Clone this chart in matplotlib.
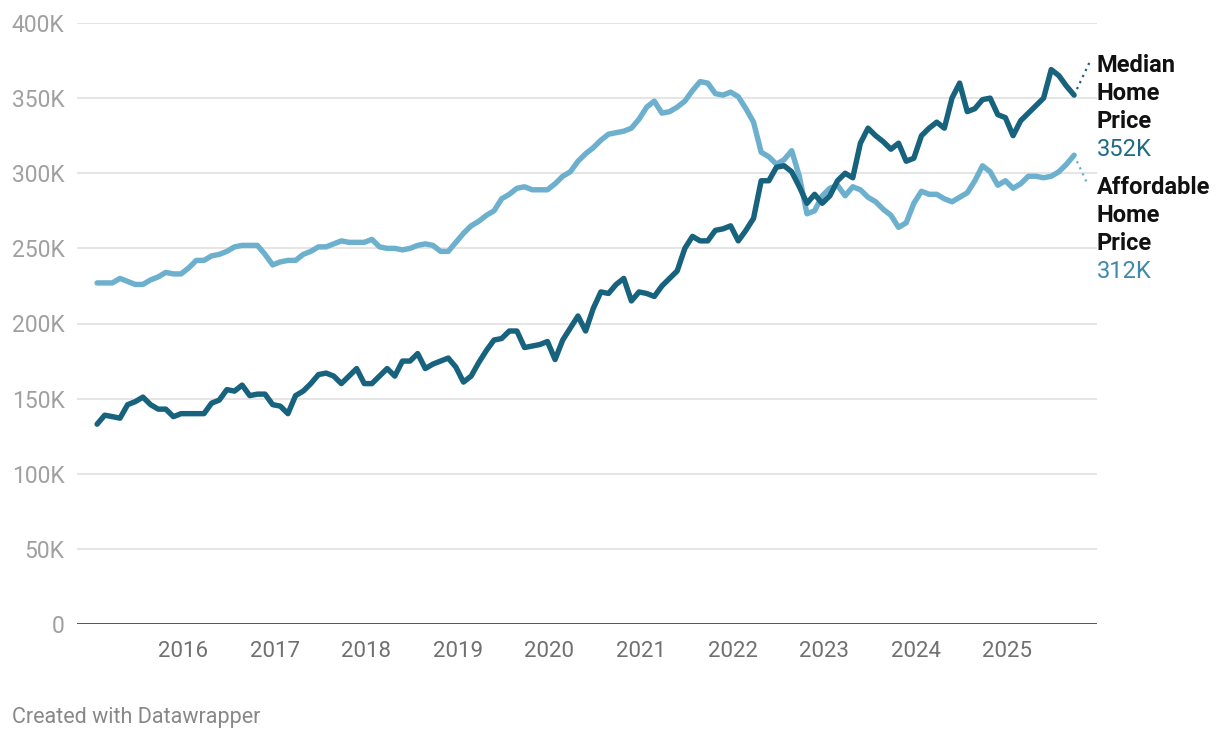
import numpy as np
import pandas as pd
import matplotlib
matplotlib.use("Agg")
import matplotlib.pyplot as plt

plt.rcParams['font.family'] = ['Roboto', 'DejaVu Sans']

# monthly data, Jan 2015 - Sep 2025 (values in $K)
months = pd.period_range('2015-01', '2025-09', freq='M')

median_price = [
    133, 139, 138, 137, 146, 148, 151, 146, 143, 143, 138, 140,
    140, 140, 140, 147, 149, 156, 155, 159, 152, 153, 153, 146,
    145, 140, 152, 155, 160, 166, 167, 165, 160, 165, 170, 160,
    160, 165, 170, 165, 175, 175, 180, 170, 173, 175, 177, 171,
    161, 165, 174, 182, 189, 190, 195, 195, 184, 185, 186, 188,
    176, 189, 197, 205, 195, 210, 221, 220, 226, 230, 215, 221,
    220, 218, 225, 230, 235, 250, 258, 255, 255, 262, 263, 265,
    255, 262, 270, 295, 295, 304, 305, 301, 291, 280, 286, 280,
    285, 295, 300, 297, 320, 330, 325, 321, 316, 320, 308, 310,
    325, 330, 334, 330, 350, 360, 341, 343, 349, 350, 339, 337,
    325, 335, 340, 345, 350, 369, 365, 358, 352,
]

affordable_price = [
    227, 227, 227, 230, 228, 226, 226, 229, 231, 234, 233, 233,
    237, 242, 242, 245, 246, 248, 251, 252, 252, 252, 246, 239,
    241, 242, 242, 246, 248, 251, 251, 253, 255, 254, 254, 254,
    256, 251, 250, 250, 249, 250, 252, 253, 252, 248, 248, 254,
    260, 265, 268, 272, 275, 283, 286, 290, 291, 289, 289, 289,
    293, 298, 301, 308, 313, 317, 322, 326, 327, 328, 330, 336,
    344, 348, 340, 341, 344, 348, 355, 361, 360, 353, 352, 354,
    351, 343, 334, 314, 311, 306, 309, 315, 298, 273, 275, 285,
    290, 292, 285, 291, 289, 284, 281, 276, 272, 264, 267, 280,
    288, 286, 286, 283, 281, 284, 287, 295, 305, 301, 292, 295,
    290, 293, 298, 298, 297, 298, 301, 306, 312,
]

year_ticks = list(range(2016, 2026))
y_ticks = [0, 50, 100, 150, 200, 250, 300, 350, 400]
y_labels = ['0', '50K', '100K', '150K', '200K', '250K', '300K', '350K', '400K']

DARK = '#17627c'
LIGHT = '#6cb0ce'

# decimal year for each month
x = np.array([p.year + (p.month - 0.25) / 12 for p in months])

fig = plt.figure(figsize=(12.2, 7.4), dpi=100)
ax = fig.add_axes([77 / 1220, 1 - 624 / 740, (1097 - 77) / 1220, (624 - 23) / 740])

for yv in y_ticks[1:]:
    ax.axhline(yv, color='#e3e3e3', lw=1.3, zorder=0)
ax.axhline(0, color='#222222', lw=1.8, zorder=1)

ax.plot(x, affordable_price, color=LIGHT, lw=3.9, solid_joinstyle='round',
        solid_capstyle='round', zorder=3)
ax.plot(x, median_price, color=DARK, lw=3.9, solid_joinstyle='round',
        solid_capstyle='round', zorder=4)

ax.set_xlim(2014.843, 2025.979)
ax.set_ylim(0, 400)
ax.set_xticks(year_ticks)
ax.set_xticklabels([str(y) for y in year_ticks], color='#707070', fontsize=16)
ax.set_yticks(y_ticks)
ax.set_yticklabels(y_labels, color='#a0a0a0', fontsize=16.5)
ax.tick_params(axis='both', length=0)
ax.tick_params(axis='x', pad=12)
ax.tick_params(axis='y', pad=9)
for s in ax.spines.values():
    s.set_visible(False)
ax.set_facecolor('none')

# dotted connectors from line ends to labels
last_x = x[-1]
ax.plot([last_x, last_x + 16 / 91.6], [median_price[-1], (624 - 62) / 1.5],
        ls=(0, (1, 2)), color=DARK, lw=1.6, clip_on=False)
ax.plot([last_x, last_x + 14 / 91.6], [affordable_price[-1], (624 - 186) / 1.5],
        ls=(0, (1, 2)), color=LIGHT, lw=1.6, clip_on=False)


def end_label(top_px, lines, value, vcolor):
    for k, t in enumerate(lines):
        fig.text(1097 / 1220, 1 - (top_px + 28 * k) / 740, t, fontsize=17,
                 fontweight='bold', color='#111111', va='center', ha='left')
    fig.text(1097 / 1220, 1 - (top_px + 28 * len(lines)) / 740, value,
             fontsize=17, color=vcolor, va='center', ha='left')


end_label(66, ['Median', 'Home', 'Price'], f'{median_price[-1]}K', '#1f6b86')
end_label(188, ['Affordable', 'Home', 'Price'], f'{affordable_price[-1]}K', '#3f8aa7')

fig.text(12 / 1220, 1 - 717 / 740, 'Created with Datawrapper', fontsize=15.5,
         color='#888888', va='center', ha='left')

fig.savefig('out.png', dpi=100)
